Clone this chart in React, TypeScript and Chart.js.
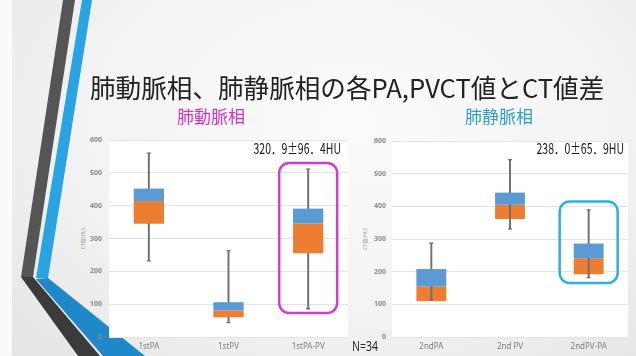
import React, { useEffect, useRef } from "react";
import { Chart, registerables } from "chart.js";

Chart.register(...registerables);

// ---- text ----
const TITLE = "肺動脈相、肺静脈相の各PA,PVCT値とCT値差";
const SUB_LEFT = "肺動脈相";
const SUB_RIGHT = "肺静脈相";
const Y_TITLE = "CT値(HU)";
const N_TEXT = "N=34";
const STAT_LEFT = "320．9±96．4HU";
const STAT_RIGHT = "238．0±65．9HU";

// ---- y ticks ----
const Y_MIN = 0;
const Y_MAX = 600;
const Y_STEP = 100;

// ---- left chart (肺動脈相) ----
const CATS_LEFT = ["1stPA", "1stPV", "1stPA-PV"];
const MIN_LEFT = [232, 44, 86];
const Q1_LEFT = [345, 60, 255];
const MED_LEFT = [414, 81, 346];
const Q3_LEFT = [452, 106, 391];
const MAX_LEFT = [560, 263, 511];

// ---- right chart (肺静脈相) ----
const CATS_RIGHT = ["2ndPA", "2nd PV", "2ndPV-PA"];
const MIN_RIGHT = [113, 331, 182];
const Q1_RIGHT = [110, 361, 192];
const MED_RIGHT = [155, 405, 241];
const Q3_RIGHT = [208, 442, 286];
const MAX_RIGHT = [287, 543, 389];

// highlighted category and its value range
const HL_LEFT = { index: 2, lo: 73, hi: 530 };
const HL_RIGHT = { index: 2, lo: 165, hi: 415 };

const ORANGE = "#ed7d31";
const BLUE = "#5b9bd5";
const WHISKER = "#707070";

type Cfg = {
  cats: string[];
  min: number[];
  q1: number[];
  med: number[];
  q3: number[];
  max: number[];
  lowerFromMedian: boolean;
  hl: { index: number; lo: number; hi: number };
  hlColor: string;
  stat: string;
  statDx: number;
  statDy: number;
  pad: { left: number; right: number; top: number; bottom: number };
  yWidth: number;
  tickPad: number;
  showN: boolean;
};

function makeChart(canvas: HTMLCanvasElement, c: Cfg) {
  const zip = (a: number[], b: number[]) => a.map((v, i) => [v, b[i]]);
  const lowerTop = c.lowerFromMedian ? c.med : c.q1;
  const decor = {
    id: "decor",
    beforeDraw(chart: any) {
      const { ctx, chartArea: a } = chart;
      ctx.save();
      ctx.fillStyle = "#ffffff";
      ctx.fillRect(a.left, a.top, a.right - a.left, a.bottom - a.top);
      ctx.restore();
    },
    afterDraw(chart: any) {
      const { ctx, chartArea: a } = chart;
      const xs = chart.scales.x;
      const ys = chart.scales.y;
      const cx = xs.getPixelForValue(c.hl.index);
      const top = ys.getPixelForValue(c.hl.hi);
      const bot = ys.getPixelForValue(c.hl.lo);
      ctx.save();
      ctx.beginPath();
      ctx.roundRect(cx - 29, top, 58, bot - top, 10);
      ctx.strokeStyle = c.hlColor;
      ctx.lineWidth = 2.5;
      ctx.stroke();
      ctx.restore();

      ctx.save();
      ctx.font = "15px 'Noto Sans CJK JP'";
      ctx.fillStyle = "#1a1a1a";
      ctx.textAlign = "right";
      ctx.textBaseline = "alphabetic";
      ctx.translate(a.right - c.statDx, a.top + c.statDy);
      ctx.scale(0.7, 1);
      ctx.fillText(c.stat, 0, 0);
      ctx.restore();

      if (c.showN) {
        ctx.save();
        ctx.font = "14px 'Noto Sans'";
        ctx.fillStyle = "#2a2a2a";
        ctx.textAlign = "left";
        ctx.textBaseline = "alphabetic";
        ctx.translate(352, 351);
        ctx.scale(0.75, 1);
        ctx.fillText(N_TEXT, 0, 0);
        ctx.restore();
      }
    },
  };

  return new Chart(canvas, {
    type: "bar",
    data: {
      labels: c.cats,
      datasets: [
        {
          type: "bar",
          label: "lower",
          data: zip(c.q1, c.med) as any,
          backgroundColor: ORANGE,
          barPercentage: 0.38,
          categoryPercentage: 1,
          grouped: false,
          order: 5,
        },
        {
          type: "bar",
          label: "upper",
          data: zip(c.med, c.q3) as any,
          backgroundColor: BLUE,
          barPercentage: 0.38,
          categoryPercentage: 1,
          grouped: false,
          order: 4,
        },
        {
          type: "bar",
          label: "whiskerUp",
          data: zip(c.q3, c.max) as any,
          backgroundColor: WHISKER,
          barThickness: 1.3,
          grouped: false,
          order: 3,
        },
        {
          type: "bar",
          label: "whiskerDown",
          data: zip(c.min, lowerTop) as any,
          backgroundColor: WHISKER,
          barThickness: 1.3,
          grouped: false,
          order: 2,
        },
        {
          type: "line",
          label: "capMax",
          data: c.max,
          showLine: false,
          pointStyle: "line",
          pointRadius: 2,
          pointBorderWidth: 1.3,
          pointBorderColor: WHISKER,
          order: 1,
        },
        {
          type: "line",
          label: "capMin",
          data: c.min,
          showLine: false,
          pointStyle: "line",
          pointRadius: 2,
          pointBorderWidth: 1.3,
          pointBorderColor: WHISKER,
          order: 1,
        },
      ],
    },
    options: {
      animation: false,
      responsive: false,
      maintainAspectRatio: false,
      layout: { padding: c.pad },
      plugins: { legend: { display: false }, tooltip: { enabled: false } },
      scales: {
        x: {
          grid: { display: false, drawTicks: false },
          border: { display: false },
          ticks: {
            color: "#7f7f7f",
            font: { family: "'Noto Sans'", size: 8 },
            padding: 5,
            maxRotation: 0,
          },
          afterFit(s: any) {
            s.height = 19;
          },
        },
        y: {
          min: Y_MIN,
          max: Y_MAX,
          grid: { color: "#e3e3e3", lineWidth: 1, drawTicks: false },
          border: { display: false },
          ticks: {
            stepSize: Y_STEP,
            color: "#8a8a8a",
            font: { family: "'Noto Sans'", size: 7, weight: "bold" },
            padding: c.tickPad,
          },
          title: {
            display: true,
            text: Y_TITLE,
            color: "#9a9a9a",
            font: { family: "'Noto Sans CJK JP'", size: 5 },
            padding: { top: 0, bottom: 0 },
          },
          afterFit(s: any) {
            s.width = c.yWidth;
          },
        },
      },
    },
    plugins: [decor],
  } as any);
}

const W = 636;
const H = 356;

export default function App() {
  const leftRef = useRef<HTMLCanvasElement>(null);
  const rightRef = useRef<HTMLCanvasElement>(null);

  useEffect(() => {
    const l = makeChart(leftRef.current!, {
      cats: CATS_LEFT,
      min: MIN_LEFT,
      q1: Q1_LEFT,
      med: MED_LEFT,
      q3: Q3_LEFT,
      max: MAX_LEFT,
      lowerFromMedian: false,
      hl: HL_LEFT,
      hlColor: "#cc3fd0",
      stat: STAT_LEFT,
      statDx: 7,
      statDy: 14,
      pad: { left: 80, right: 288, top: 140, bottom: 0 },
      yWidth: 29,
      tickPad: 7,
      showN: false,
    });
    const r = makeChart(rightRef.current!, {
      cats: CATS_RIGHT,
      min: MIN_RIGHT,
      q1: Q1_RIGHT,
      med: MED_RIGHT,
      q3: Q3_RIGHT,
      max: MAX_RIGHT,
      lowerFromMedian: true,
      hl: HL_RIGHT,
      hlColor: "#2fb0dc",
      stat: STAT_RIGHT,
      statDx: 4,
      statDy: 13,
      pad: { left: 362, right: 8, top: 141, bottom: 0 },
      yWidth: 30,
      tickPad: 6,
      showN: true,
    });
    return () => {
      l.destroy();
      r.destroy();
    };
  }, []);

  return (
    <div
      style={{
        position: "fixed",
        left: 0,
        top: 0,
        width: W,
        height: H,
        overflow: "hidden",
        background:
          "radial-gradient(ellipse 75% 95% at 55% 35%, #fbfbfb 0%, #f3f3f3 55%, #e4e4e4 100%)",
      }}
    >
      <div style={{ position: "absolute", left: 0, top: 0, width: 12, height: H, background: "#fafafa" }} />
      <svg width={W} height={H} style={{ position: "absolute", left: 0, top: 0 }}>
        <polygon points="63,0 75,0 33,277 21,277" fill="#555555" />
        <polygon points="82,0 92,0 48,278 36,278" fill="#2aa3e2" />
        <polygon points="21,277 33,277 100,356 78,356" fill="#3b3b3b" />
        <polygon points="36,279 48,278 145,356 103,356" fill="#1e88c8" />
      </svg>
      <div
        style={{
          position: "absolute",
          left: 90,
          top: 74,
          fontFamily: "'Noto Sans CJK JP'",
          fontSize: 25.6,
          lineHeight: "26px",
          color: "#222",
          whiteSpace: "nowrap",
        }}
      >
        {TITLE}
      </div>
      <div
        style={{
          position: "absolute",
          left: 177,
          top: 107,
          fontFamily: "'Noto Sans CJK JP'",
          fontSize: 17,
          lineHeight: "17px",
          color: "#cc33cc",
          whiteSpace: "nowrap",
        }}
      >
        {SUB_LEFT}
      </div>
      <div
        style={{
          position: "absolute",
          left: 465,
          top: 107,
          fontFamily: "'Noto Sans CJK JP'",
          fontSize: 17,
          lineHeight: "17px",
          color: "#2e9fc9",
          whiteSpace: "nowrap",
        }}
      >
        {SUB_RIGHT}
      </div>
      <canvas ref={leftRef} width={W} height={H} style={{ position: "absolute", left: 0, top: 0 }} />
      <canvas ref={rightRef} width={W} height={H} style={{ position: "absolute", left: 0, top: 0 }} />
    </div>
  );
}
